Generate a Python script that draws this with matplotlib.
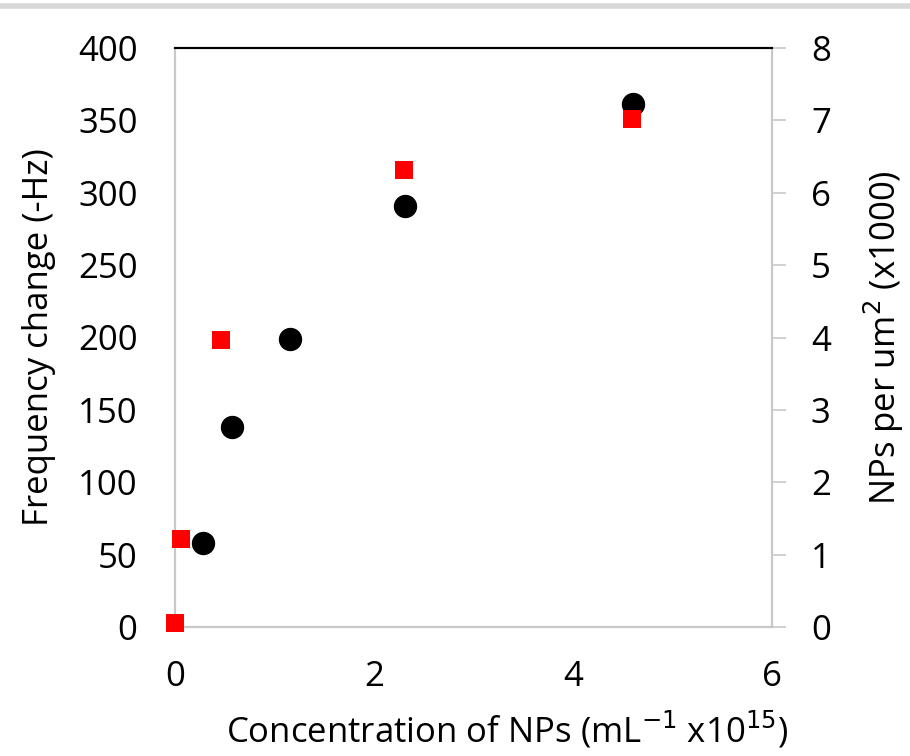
import matplotlib.pyplot as plt
from matplotlib.lines import Line2D

plt.rcParams['font.family'] = ['Open Sans', 'DejaVu Sans']

# black circles: frequency change (left axis)
conc_freq = [0.28, 0.57, 1.16, 2.31, 4.60]
freq = [58, 138, 199, 291, 361]

# red squares: NPs per um2 x1000 (right axis)
conc_nps = [0.0, 0.06, 0.46, 2.30, 4.59]
nps = [0.05, 1.22, 3.97, 6.31, 7.02]

fig = plt.figure(figsize=(9.1, 7.56), dpi=100)
ax = fig.add_axes([175/910, 1 - 627/756, (772-175)/910, (627-48)/756])
ax2 = ax.twinx()

ax.scatter(conc_freq, freq, s=250, color='black', zorder=3, clip_on=False)
ax2.scatter(conc_nps, nps, s=150, color='red', marker='s', linewidths=0, zorder=3, clip_on=False)

ax.set_xlim(0, 6)
ax.set_ylim(0, 400)
ax2.set_ylim(0, 8)
ax.set_xticks([0, 2, 4, 6])
ax.set_yticks(range(0, 401, 50))
ax2.set_yticks(range(0, 9))

gray = '#c8c8c8'
for a in (ax, ax2):
    for side in ('left', 'right', 'bottom'):
        a.spines[side].set_color(gray)
        a.spines[side].set_linewidth(1.5)
    a.spines['top'].set_color('black')
    a.spines['top'].set_linewidth(1.5)
fs = 25
ax.tick_params(axis='y', length=0, labelsize=fs, pad=27)
ax.tick_params(axis='x', length=0, labelsize=fs, pad=24)
ax2.tick_params(axis='y', length=10, width=1.2, color=gray, labelsize=fs, pad=18)

ax.set_xlabel('Concentration of NPs (mL$^{-1}$ x10$^{15}$)', fontsize=fs)
ax.xaxis.set_label_coords(0.556, -0.143)
ax.set_ylabel('Frequency change (-Hz)', fontsize=fs, labelpad=16)
ax2.set_ylabel('NPs per um$^{2}$ (x1000)', fontsize=fs, labelpad=22)

# light gray band at top of the image
fig.add_artist(Line2D([0, 1], [1 - 6/756, 1 - 6/756], color='#d9d9d9', linewidth=4))

fig.savefig('out.png', dpi=100, facecolor='white')
